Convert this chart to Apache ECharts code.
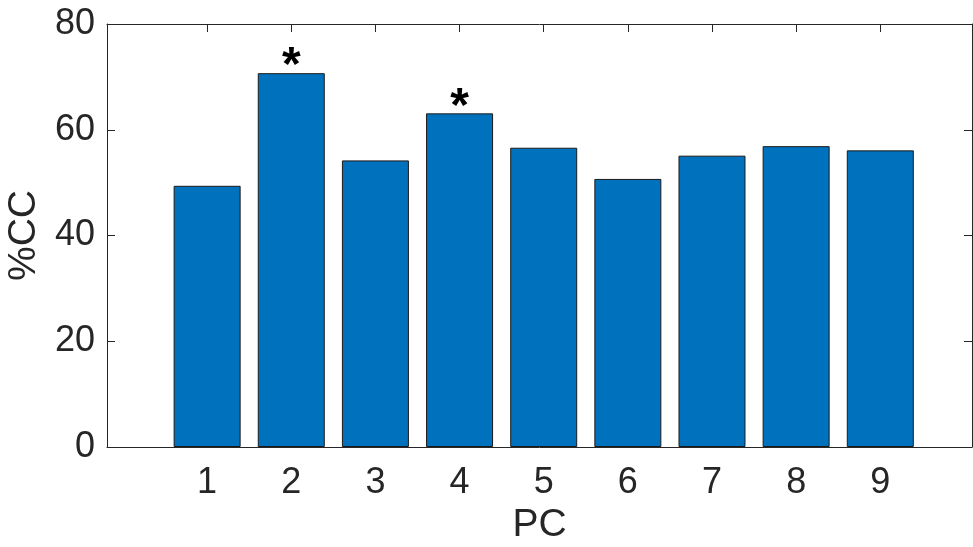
<!DOCTYPE html>
<html>
<head>
<meta charset="utf-8">
<script src="https://cdn.jsdelivr.net/npm/echarts@6/dist/echarts.min.js"></script>
<style>
  html, body { margin: 0; padding: 0; background: #fff; }
  #chart { width: 973px; height: 547px; }
</style>
</head>
<body>
<div id="chart"></div>
<script>
// Principal components on the x axis
const components = [1, 2, 3, 4, 5, 6, 7, 8, 9];
// %CC for each component
const ccValues = [49.4, 70.7, 54.2, 63.1, 56.6, 50.7, 55.1, 56.9, 56.1];
// Components flagged as significant (drawn with an asterisk)
const significant = [false, true, false, true, false, false, false, false, false];
// Y tick labels
const yTicks = [0, 20, 40, 60, 80];

const FONT = '"Liberation Sans", Arial, Helvetica, sans-serif';
const INK = '#262626';

const chart = echarts.init(document.getElementById('chart'), null, { renderer: 'canvas' });

const barData = components.map((c, i) => ({
  value: [c, ccValues[i]],
  label: { show: significant[i] }
}));

const xCommon = {
  type: 'value',
  min: -0.19,
  max: 10.09,
  splitLine: { show: false },
  axisLine: { show: true, onZero: false, lineStyle: { color: INK, width: 1 } },
  axisTick: { show: true, inside: true, length: 8, customValues: components, lineStyle: { color: INK } }
};

const yCommon = {
  type: 'value',
  min: 0,
  max: 80,
  interval: 20,
  splitLine: { show: false },
  axisLine: { show: true, onZero: false, lineStyle: { color: INK, width: 1 } },
  axisTick: { show: true, inside: true, length: 8, customValues: yTicks, lineStyle: { color: INK } }
};

chart.setOption({
  animation: false,
  backgroundColor: '#ffffff',
  grid: { left: 107, right: 1, top: 24, bottom: 100, containLabel: false, outerBoundsMode: 'none' },
  xAxis: [
    Object.assign({}, xCommon, {
      position: 'bottom',
      name: 'PC',
      nameLocation: 'middle',
      nameGap: 53,
      nameTextStyle: { color: INK, fontSize: 39, fontFamily: FONT },
      axisLabel: {
        show: true, customValues: components, margin: 18,
        color: INK, fontSize: 36, fontFamily: FONT
      }
    }),
    Object.assign({}, xCommon, {
      position: 'top',
      axisLabel: { show: false }
    })
  ],
  yAxis: [
    Object.assign({}, yCommon, {
      position: 'left',
      name: '%CC',
      nameLocation: 'middle',
      nameGap: 39,
      nameTextStyle: { color: INK, fontSize: 39, fontFamily: FONT },
      axisLabel: {
        show: true, customValues: yTicks, margin: 12,
        color: INK, fontSize: 36, fontFamily: FONT
      }
    }),
    Object.assign({}, yCommon, {
      position: 'right',
      axisLabel: { show: false }
    })
  ],
  series: [{
    type: 'bar',
    xAxisIndex: 0,
    yAxisIndex: 0,
    barWidth: 67,
    data: barData,
    itemStyle: { color: '#0072BD', borderColor: '#1a1a1a', borderWidth: 1 },
    label: {
      position: 'top',
      distance: -18,
      formatter: '*',
      color: '#000',
      fontSize: 48,
      fontWeight: 'bold',
      fontFamily: FONT
    }
  }]
});
</script>
</body>
</html>
